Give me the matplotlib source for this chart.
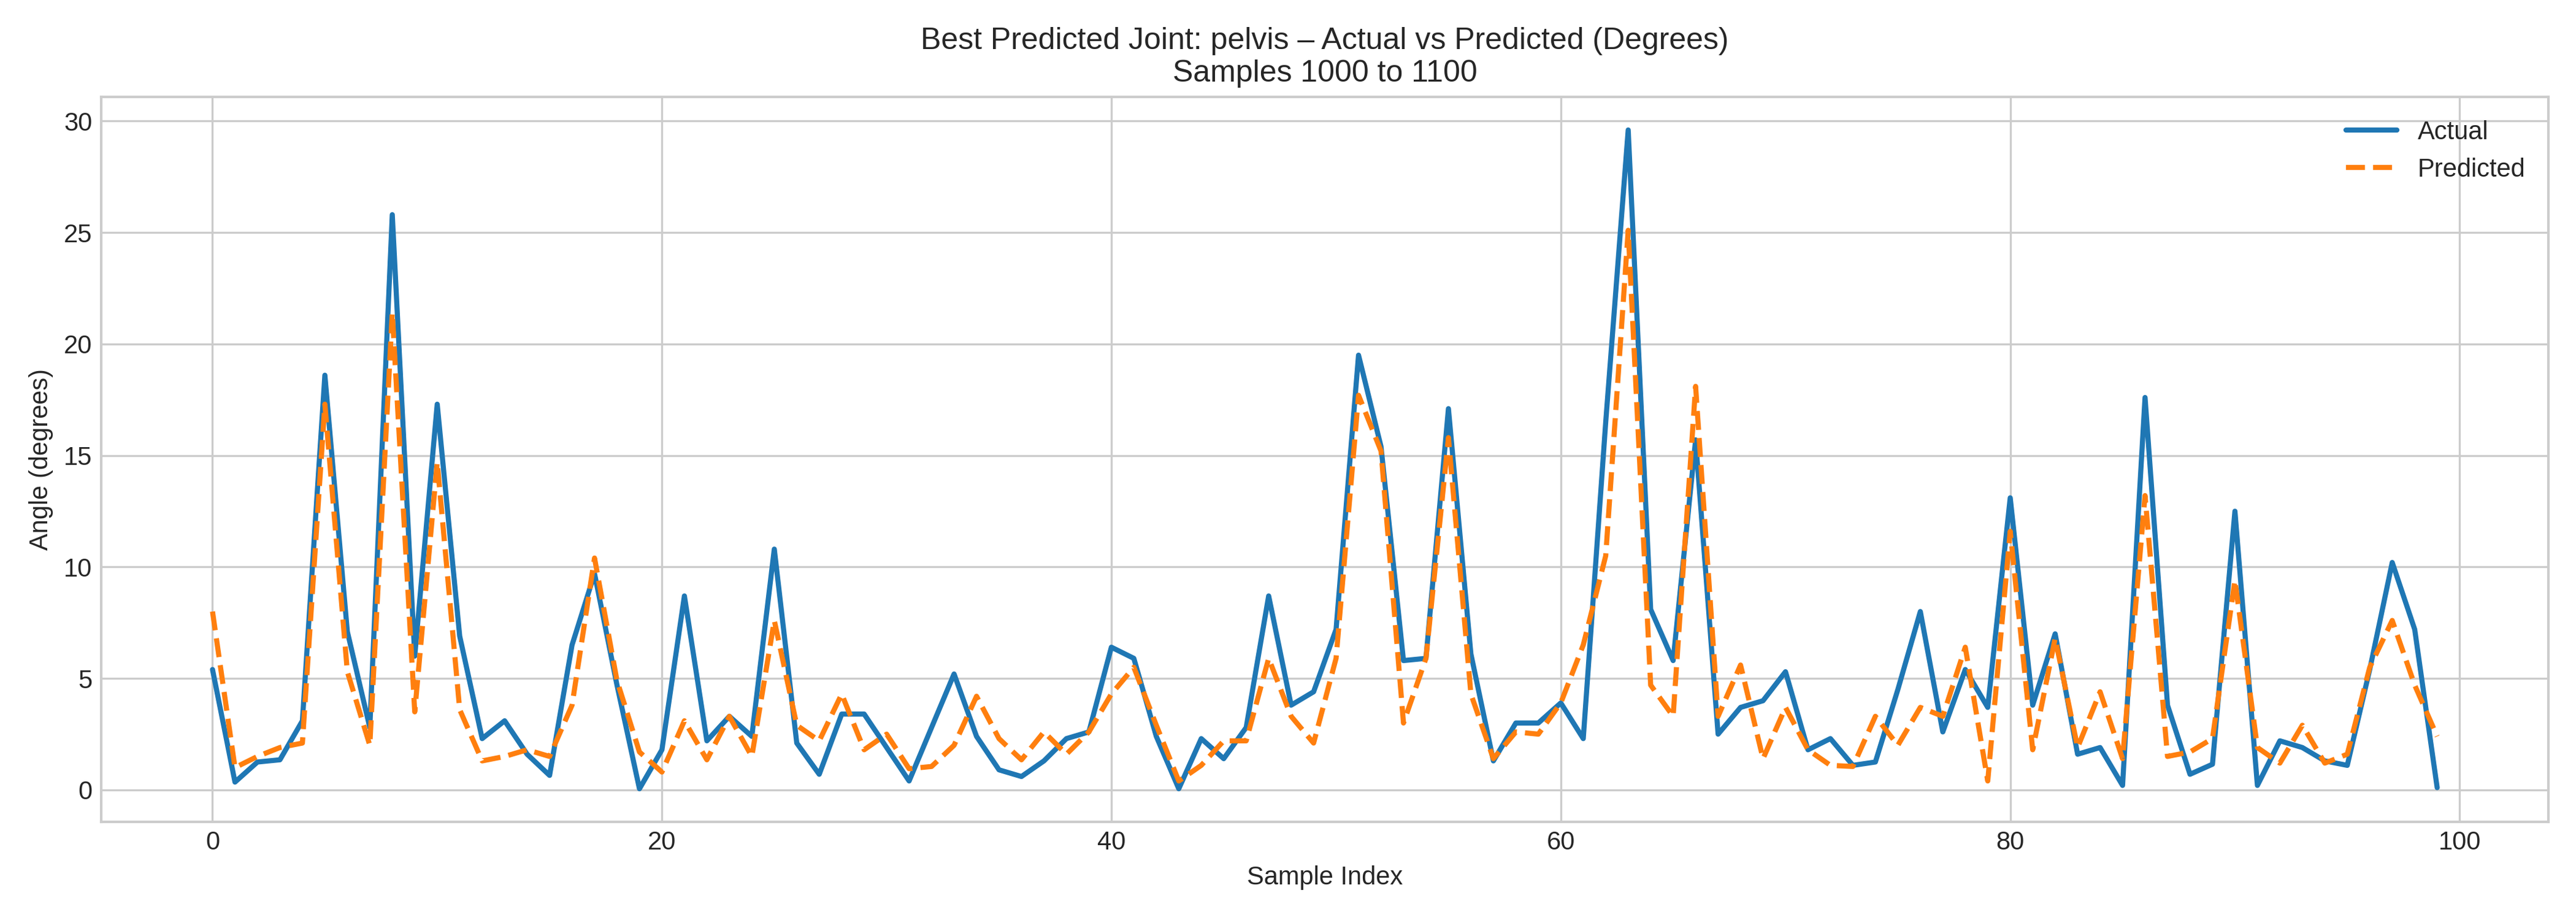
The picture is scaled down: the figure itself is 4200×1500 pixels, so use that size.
import numpy as np
import matplotlib
matplotlib.use("Agg")
import matplotlib.pyplot as plt

# Values (samples 1000..1099, shown as 0..99)
actual = [
    5.4, 0.35, 1.25, 1.35, 3.1, 18.6, 7.1, 2.8, 25.8, 6.0,
    17.3, 6.9, 2.3, 3.1, 1.6, 0.65, 6.5, 9.7, 4.7, 0.05,
    1.8, 8.7, 2.2, 3.3, 2.4, 10.8, 2.1, 0.7, 3.4, 3.4,
    1.9, 0.4, 2.8, 5.2, 2.4, 0.9, 0.6, 1.3, 2.3, 2.6,
    6.4, 5.9, 2.4, 0.05, 2.3, 1.4, 2.8, 8.7, 3.8, 4.4,
    7.2, 19.5, 15.4, 5.8, 5.9, 17.1, 6.1, 1.3, 3.0, 3.0,
    3.9, 2.3, 16.5, 29.6, 8.1, 5.8, 15.7, 2.5, 3.7, 4.0,
    5.3, 1.8, 2.3, 1.1, 1.25, 4.5, 8.0, 2.6, 5.4, 3.7,
    13.1, 3.8, 7.0, 1.6, 1.9, 0.2, 17.6, 3.8, 0.7, 1.15,
    12.5, 0.2, 2.2, 1.9, 1.3, 1.1, 5.4, 10.2, 7.2, 0.1,
]
predicted = [
    8.0, 1.0, 1.5, 1.9, 2.1, 17.3, 5.3, 2.0, 21.4, 3.5,
    14.7, 3.6, 1.3, 1.5, 1.8, 1.5, 3.8, 10.4, 4.9, 1.7,
    0.8, 3.1, 1.35, 3.3, 1.5, 7.6, 2.9, 2.2, 4.3, 1.8,
    2.5, 0.95, 1.05, 2.0, 4.2, 2.3, 1.35, 2.6, 1.6, 2.6,
    4.3, 5.5, 2.9, 0.4, 1.1, 2.2, 2.2, 5.9, 3.3, 2.1,
    5.9, 17.7, 15.2, 3.0, 5.9, 15.8, 4.3, 1.4, 2.6, 2.5,
    3.9, 6.5, 10.5, 25.1, 4.7, 3.3, 18.1, 3.3, 5.6, 1.4,
    3.7, 1.8, 1.1, 1.05, 3.3, 2.0, 3.7, 3.3, 6.4, 0.4,
    11.6, 1.8, 6.8, 1.9, 4.4, 1.4, 13.2, 1.5, 1.7, 2.3,
    9.4, 1.9, 1.2, 2.9, 1.2, 1.6, 5.5, 7.6, 4.7, 2.4,
]
sample_idx = np.arange(len(actual))

plt.style.use("seaborn-v0_8-whitegrid")
plt.rcParams["font.family"] = ["Liberation Sans", "DejaVu Sans"]

fig, ax = plt.subplots(figsize=(14, 5))
ax.plot(sample_idx, actual, color="#1f77b4", lw=2, label="Actual")
ax.plot(sample_idx, predicted, color="#ff7f0e", lw=2, ls="--", label="Predicted")

ax.set_title("Best Predicted Joint: pelvis \u2013 Actual vs Predicted (Degrees)\n"
             "Samples 1000 to 1100", fontsize=12)
ax.set_xlabel("Sample Index")
ax.set_ylabel("Angle (degrees)")
ax.legend(loc="upper right")
for s in ax.spines.values():
    s.set_visible(True)
    s.set_color("#cccccc")

fig.tight_layout()
fig.savefig("out.png", dpi=300)
plt.close(fig)
